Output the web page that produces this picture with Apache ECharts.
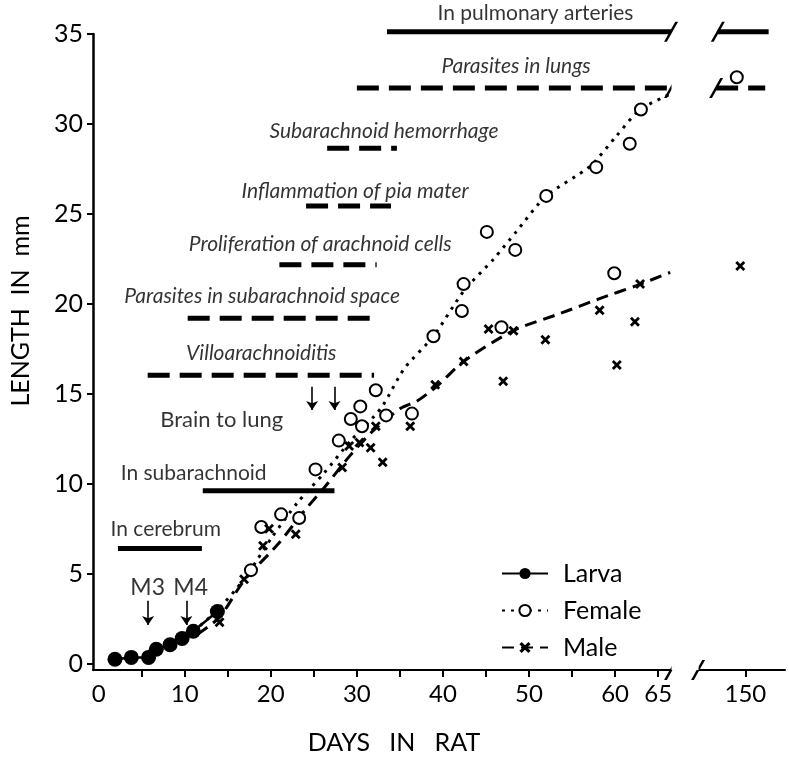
<!DOCTYPE html>
<html>
<head>
<meta charset="utf-8">
<script src="https://cdn.jsdelivr.net/npm/echarts@6/dist/echarts.min.js"></script>
<style>html,body{margin:0;padding:0;background:#fff}#c{width:789px;height:760px}</style>
</head>
<body>
<div id="c"></div>
<script>
// ---------------- data ----------------
const larvaDays = [1.9, 3.8, 5.8, 6.7, 8.3, 9.7, 11.0, 13.8];
const larvaLen  = [0.25, 0.35, 0.35, 0.8, 1.05, 1.4, 1.8, 2.9];

const femaleDays = [17.7, 18.9, 21.2, 23.3, 25.2, 27.9, 29.3, 30.4, 30.6, 32.2, 33.4, 36.4, 38.9, 42.2, 42.4, 45.1, 46.8, 48.4, 52.0, 57.8, 59.9, 61.7, 63.0, 149.0];
const femaleLen  = [5.2, 7.6, 8.3, 8.1, 10.8, 12.4, 13.6, 14.3, 13.2, 15.2, 13.8, 13.9, 18.2, 19.6, 21.1, 24.0, 18.7, 23.0, 26.0, 27.6, 21.7, 28.9, 30.8, 32.6];

const maleDays = [14.05, 16.9, 19.1, 19.8, 22.9, 28.3, 29.1, 30.3, 31.6, 32.2, 33.0, 36.2, 39.1, 42.4, 45.3, 47.0, 48.2, 51.9, 58.2, 60.2, 62.3, 62.9, 149.4];
const maleLen  = [2.3, 4.7, 6.55, 7.5, 7.2, 10.9, 12.1, 12.3, 12.0, 13.2, 11.2, 13.2, 15.5, 16.8, 18.6, 15.7, 18.5, 18.0, 19.65, 16.6, 19.0, 21.1, 22.1];

const femaleCurveDays = [11.0, 13.8, 16.9, 20.1, 23.1, 26.2, 29.3, 32.8, 35.5, 38.9, 42.4, 45.9, 48.5, 52.0, 57.1, 60.1, 62.9, 66.4];
const femaleCurveLen  = [1.8, 2.97, 4.7, 7.0, 8.95, 10.6, 12.4, 14.2, 16.4, 18.2, 20.7, 22.5, 24.0, 26.0, 27.65, 29.3, 30.8, 31.65];

const maleCurveDays = [11.5, 14.05, 16.9, 20.8, 23.9, 26.2, 29.3, 32.0, 35.1, 37.0, 39.3, 42.4, 48.2, 53.6, 58.2, 62.4, 66.4];
const maleCurveLen  = [1.64, 2.58, 4.63, 6.62, 8.5, 9.78, 11.62, 13.0, 14.2, 14.6, 15.42, 16.8, 18.52, 19.46, 20.29, 21.0, 21.75];

// annotation bars: name, level (mm), start day, end day, second segment (after the break)
const annoNames  = ['In pulmonary arteries', 'Parasites in lungs', 'Subarachnoid hemorrhage', 'Inflammation of pia mater', 'Proliferation of arachnoid cells', 'Parasites in subarachnoid space', 'Villoarachnoiditis', 'In subarachnoid', 'In cerebrum'];
const annoLevel  = [35.12, 32.0, 28.65, 25.44, 22.17, 19.2, 16.03, 9.61, 6.4];
const annoStart  = [33.5, 30.0, 26.55, 24.1, 21.0, 10.35, 5.7, 12.1, 2.25];
const annoEnd    = [66.5, 66.5, 34.65, 33.96, 32.3, 32.0, 32.0, 27.4, 12.0];
const annoSolid  = [true, false, false, false, false, false, false, true, true];
const annoStart2 = [146.8, 146.6, null, null, null, null, null, null, null];
const annoEnd2   = [152.7, 152.3, null, null, null, null, null, null, null];
// label anchor (centre) for each annotation
const annoLabelDay = [50.75, 48.5, 33.15, 29.8, 25.74, 19.0, 18.9, 11.04, 7.8];
const annoLabelLen = [36.17, 33.2, 29.6, 26.27, 23.34, 20.4, 17.25, 10.6, 7.45];
const annoItalic   = [false, true, true, true, true, true, true, false, false];

// other text notes
const noteTexts = ['Brain to lung', 'M3', 'M4'];
const noteDays  = [14.3, 5.7, 10.7];
const noteLen   = [13.54, 4.24, 4.24];

// arrows
const arrowDays = [24.8, 27.4, 5.75, 10.2];
const arrowTop  = [15.4, 15.4, 3.5, 3.5];
const arrowBot  = [14.1, 14.1, 2.15, 2.15];

// axes
const xTickVals  = [5, 10, 15, 20, 25, 30, 35, 40, 45, 50, 55, 60, 65, 150];
const xLabelVals = [0, 10, 20, 30, 40, 50, 60, 65, 150];
const yTickVals  = [0, 5, 10, 15, 20, 25, 30, 35];
const breakStart = 66.5, breakEnd = 144.5;

// ---------------- chart ----------------
const FONT = 'Lato';
const zip = (a, b) => a.map((v, i) => [v, b[i]]);
const X_PATH = 'path://M2,0 L5,3 L8,0 L10,2 L7,5 L10,8 L8,10 L5,7 L2,10 L0,8 L3,5 L0,2 Z';
const SLASH = 'path://M0,20 L12,0 L15,0 L3,20 Z';

const series = [];
series.push({
  name: 'Larva', type: 'line', data: zip(larvaDays, larvaLen),
  symbol: 'circle', symbolSize: 15, itemStyle: {color: '#000'},
  lineStyle: {color: '#000', width: 2.5}, z: 5
});
series.push({
  name: 'Female', type: 'line', data: zip(femaleCurveDays, femaleCurveLen),
  smooth: 0.25, symbol: 'emptyCircle', showSymbol: false, symbolSize: 10,
  itemStyle: {color: '#000', borderWidth: 1.5},
  lineStyle: {color: '#000', width: 3, type: [3, 6]}
});
series.push({
  name: 'Male', type: 'line', data: zip(maleCurveDays, maleCurveLen),
  smooth: 0.25, symbol: X_PATH, showSymbol: false, symbolSize: 10,
  itemStyle: {color: '#000'},
  lineStyle: {color: '#000', width: 3, type: [12, 7]}
});
series.push({
  name: 'Female', type: 'scatter', data: zip(femaleDays, femaleLen),
  symbol: 'emptyCircle', symbolSize: 12, clip: false,
  itemStyle: {color: '#000', borderColor: '#000', borderWidth: 1.6, opacity: 1}, z: 4
});
series.push({
  name: 'Male', type: 'scatter', data: zip(maleDays, maleLen),
  symbol: X_PATH, symbolSize: 10, clip: false,
  itemStyle: {color: '#000', opacity: 1}, z: 4
});

// annotation bars
annoNames.forEach((n, i) => {
  const ls = annoSolid[i] ? {color: '#000', width: 5, type: 'solid'} : {color: '#000', width: 5, type: [22, 10]};
  series.push({
    type: 'line', data: [[annoStart[i], annoLevel[i]], [annoEnd[i], annoLevel[i]]],
    symbol: 'none', lineStyle: ls, clip: false, silent: true
  });
  if (annoStart2[i] != null) {
    series.push({
      type: 'line', data: [[annoStart2[i], annoLevel[i]], [annoEnd2[i], annoLevel[i]]],
      symbol: 'none', lineStyle: ls, clip: false, silent: true
    });
  }
});

// break slashes
const slashPts = [[breakStart, -0.35], [breakEnd, -0.35]];
annoNames.forEach((n, i) => {
  if (annoStart2[i] != null) {
    slashPts.push([annoEnd[i], annoLevel[i]]);
    slashPts.push([annoStart2[i], annoLevel[i]]);
  }
});
series.push({
  type: 'scatter', data: slashPts, symbol: SLASH, symbolSize: [14, 20],
  itemStyle: {color: '#000', opacity: 1}, clip: false, silent: true, z: 20
});

// text labels
const textData = [];
annoNames.forEach((n, i) => {
  textData.push({value: [annoLabelDay[i], annoLabelLen[i], n], label: {fontStyle: annoItalic[i] ? 'italic' : 'normal'}});
});
noteTexts.forEach((n, i) => {
  textData.push({value: [noteDays[i], noteLen[i], n], label: {fontStyle: 'normal', fontSize: i === 0 ? 22 : 23}});
});
series.push({
  type: 'scatter', data: textData, symbolSize: 1, clip: false, silent: true,
  itemStyle: {color: 'transparent'},
  label: {show: true, position: 'inside', color: '#000', fontFamily: FONT, fontSize: 21,
    formatter: p => p.value[2]}
});

// arrows
series.push({
  type: 'lines', coordinateSystem: 'cartesian2d',
  data: arrowDays.map((d, i) => ({coords: [[d, arrowTop[i]], [d, arrowBot[i]]]})),
  symbol: ['none', 'arrow'], symbolSize: 9,
  lineStyle: {color: '#000', width: 1.6, opacity: 1}, silent: true, clip: false
});

const chart = echarts.init(document.getElementById('c'), null, {renderer: 'canvas'});
chart.setOption({
  animation: false,
  backgroundColor: '#fff',
  grid: {left: 88, right: 4, top: 34, bottom: 87, containLabel: false},
  legend: {
    data: ['Larva', 'Female', 'Male'],
    orient: 'vertical', left: 496, top: 556,
    itemWidth: 46, itemHeight: 14, itemGap: 12,
    textStyle: {fontFamily: FONT, fontSize: 25, color: '#000', padding: [0, 0, 0, 10]},
    selectedMode: false
  },
  xAxis: {
    type: 'value', min: -0.65, max: 154.6,
    breaks: [{start: breakStart, end: breakEnd, gap: '3.9%'}],
    breakArea: {show: true, zigzagAmplitude: 0, expandOnClick: false,
      itemStyle: {color: '#fff', borderColor: '#fff', borderWidth: 0, opacity: 1}},
    name: 'DAYS   IN   RAT', nameLocation: 'middle', nameGap: 60,
    nameTextStyle: {fontFamily: FONT, fontSize: 25, color: '#000', padding: [0, 90, 0, 0]},
    axisLine: {onZero: false, lineStyle: {color: '#000', width: 2}},
    axisTick: {customValues: xTickVals, length: 7, lineStyle: {color: '#000', width: 2}},
    axisLabel: {customValues: xLabelVals, fontFamily: FONT, fontSize: 24, color: '#000', margin: 12,
      formatter: v => String(Math.round(v))},
    splitLine: {show: false}
  },
  yAxis: {
    type: 'value', min: -0.35, max: 35,
    name: 'LENGTH  IN  mm', nameLocation: 'middle', nameGap: 60, nameRotate: 90,
    nameTextStyle: {fontFamily: FONT, fontSize: 25, color: '#000', padding: [0, 0, 0, 82]},
    axisLine: {onZero: false, lineStyle: {color: '#000', width: 2.5}},
    axisTick: {customValues: yTickVals, length: 6, lineStyle: {color: '#000', width: 2}},
    axisLabel: {customValues: yTickVals, fontFamily: FONT, fontSize: 25, color: '#000', margin: 10,
      formatter: v => String(Math.round(v))},
    splitLine: {show: false}
  },
  series: series
});
</script>
</body>
</html>
